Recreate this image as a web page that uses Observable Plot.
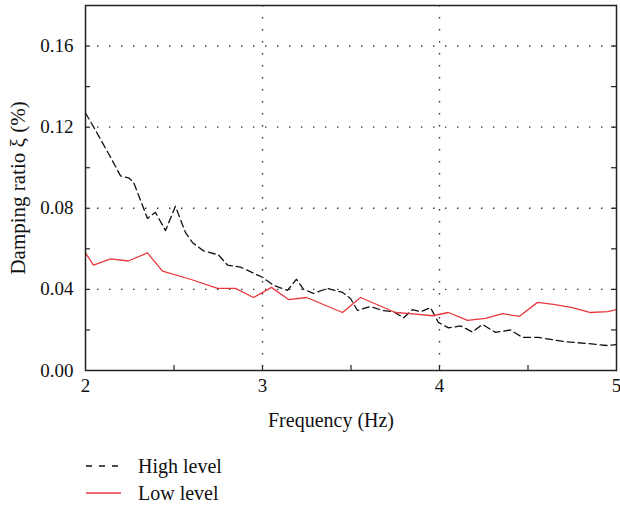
<!DOCTYPE html>
<html>
<head>
<meta charset="utf-8">
<script src="https://cdn.jsdelivr.net/npm/d3@7"></script>
<script src="https://cdn.jsdelivr.net/npm/@observablehq/plot@0.6"></script>
<style>
  body { margin: 0; background: #fff; font-family: 'Liberation Serif', serif; }
  #legend { position: relative; width: 620px; height: 66px; }
</style>
</head>
<body>
<div id="chart"></div>
<div id="legend"></div>
<script>
// High level series (Hz, damping ratio)
const highFreq = [2.0, 2.056, 2.13, 2.198, 2.243, 2.271, 2.35, 2.395, 2.452, 2.508, 2.565, 2.605, 2.667, 2.751, 2.802, 2.876, 2.949, 3.0, 3.062, 3.141, 3.192, 3.232, 3.288, 3.367, 3.452, 3.497, 3.537, 3.61, 3.678, 3.74, 3.797, 3.847, 3.893, 3.949, 3.994, 4.051, 4.119, 4.186, 4.243, 4.316, 4.401, 4.469, 4.559, 4.7, 4.836, 4.949, 5.0];
const highVal  = [0.127, 0.1185, 0.107, 0.096, 0.095, 0.093, 0.075, 0.078, 0.069, 0.081, 0.068, 0.063, 0.059, 0.057, 0.052, 0.051, 0.048, 0.046, 0.042, 0.0395, 0.045, 0.040, 0.038, 0.0405, 0.0385, 0.0355, 0.0296, 0.0316, 0.0296, 0.029, 0.026, 0.030, 0.029, 0.031, 0.0237, 0.021, 0.022, 0.019, 0.0227, 0.0188, 0.020, 0.0163, 0.0163, 0.0143, 0.0133, 0.0123, 0.0128];
// Low level series
const lowFreq = [2.0, 2.045, 2.141, 2.243, 2.35, 2.435, 2.593, 2.746, 2.847, 2.949, 3.051, 3.147, 3.249, 3.452, 3.554, 3.751, 3.836, 3.96, 4.051, 4.158, 4.26, 4.356, 4.452, 4.554, 4.644, 4.751, 4.853, 4.949, 5.0];
const lowVal  = [0.058, 0.052, 0.055, 0.054, 0.058, 0.049, 0.045, 0.0405, 0.0405, 0.036, 0.041, 0.035, 0.036, 0.0286, 0.036, 0.0286, 0.028, 0.027, 0.0286, 0.0247, 0.0257, 0.028, 0.0267, 0.0336, 0.0326, 0.031, 0.0286, 0.029, 0.030];

const xTicks = [2, 3, 4, 5];
const xMinorTicks = [2.5, 3, 3.5, 4, 4.5];
const yTicks = [0, 0.04, 0.08, 0.12, 0.16];
const yMinorTicks = [0.02, 0.04, 0.06, 0.08, 0.10, 0.12, 0.14, 0.16];
const xGrid = [3, 4];
const yGrid = [0.04, 0.08, 0.12, 0.16];
const seriesNames = ["High level", "Low level"];
const seriesColors = ["#111111", "#e8383d"];

const high = highFreq.map((f, i) => ({f, v: highVal[i]}));
const low = lowFreq.map((f, i) => ({f, v: lowVal[i]}));

const FONT = "'Liberation Serif', serif";
const W = 620, H = 440, mL = 85, mR = 4, mT = 5, mB = 70;
const pw = W - mL - mR, ph = H - mT - mB;
const axisColor = "#222";

const chart = Plot.plot({
  width: W, height: H,
  marginLeft: mL, marginRight: mR, marginTop: mT, marginBottom: mB,
  style: {fontFamily: FONT, fontSize: "19px", color: "#111", background: "#fff"},
  x: {domain: [2, 5]},
  y: {domain: [0, 0.18]},
  marks: [
    Plot.gridY(yGrid, {stroke: "#333", strokeOpacity: 1, strokeWidth: 1.4, strokeDasharray: "1.4,10.6"}),
    Plot.gridX(xGrid, {stroke: "#333", strokeOpacity: 1, strokeWidth: 1.4, strokeDasharray: "1.4,10.6"}),
    Plot.tickY(yMinorTicks, {y: d => d, insetRight: pw - 5, stroke: axisColor, strokeWidth: 1.2}),
    Plot.tickY(yMinorTicks, {y: d => d, insetLeft: pw - 5, stroke: axisColor, strokeWidth: 1.2}),
    Plot.tickX(xMinorTicks, {x: d => d, insetTop: ph - 5, stroke: axisColor, strokeWidth: 1.2}),
    Plot.axisY(yTicks, {tickSize: 0, tickPadding: 12, tickFormat: d3.format(".2f"), label: null, fontSize: 19, fontFamily: FONT}),
    Plot.axisX(xTicks, {tickSize: 0, tickPadding: 8, tickFormat: d => String(d), label: null, fontSize: 19, fontFamily: FONT}),
    Plot.line(high, {x: "f", y: "v", stroke: seriesColors[0], strokeWidth: 1.3, strokeDasharray: "7,4"}),
    Plot.line(low, {x: "f", y: "v", stroke: seriesColors[1], strokeWidth: 1.3}),
    Plot.frame({stroke: axisColor, strokeWidth: 1.5}),
    Plot.text(["Frequency (Hz)"], {frameAnchor: "bottom", dy: 56, dx: -20, fontSize: 20, fontFamily: FONT, fill: "#111"}),
    Plot.text(["Damping ratio ξ (%)"], {frameAnchor: "left", textAnchor: "middle", dx: -67, rotate: -90, fontSize: 21, fontFamily: FONT, fill: "#111"})
  ]
});
document.getElementById("chart").appendChild(chart);

// Legend below the chart
const legend = d3.select("#legend").append("svg").attr("width", 620).attr("height", 66);
const rows = [
  {name: seriesNames[0], color: seriesColors[0], dash: "6,7", y: 26},
  {name: seriesNames[1], color: seriesColors[1], dash: null, y: 53}
];
rows.forEach(r => {
  legend.append("line").attr("x1", 86).attr("x2", 121).attr("y1", r.y).attr("y2", r.y)
    .attr("stroke", r.color).attr("stroke-width", 1.3).attr("stroke-dasharray", r.dash);
  legend.append("text").attr("x", 138).attr("y", r.y).attr("dy", "0.35em")
    .style("font-family", FONT).attr("font-size", 20).attr("fill", "#111").text(r.name);
});
</script>
</body>
</html>
